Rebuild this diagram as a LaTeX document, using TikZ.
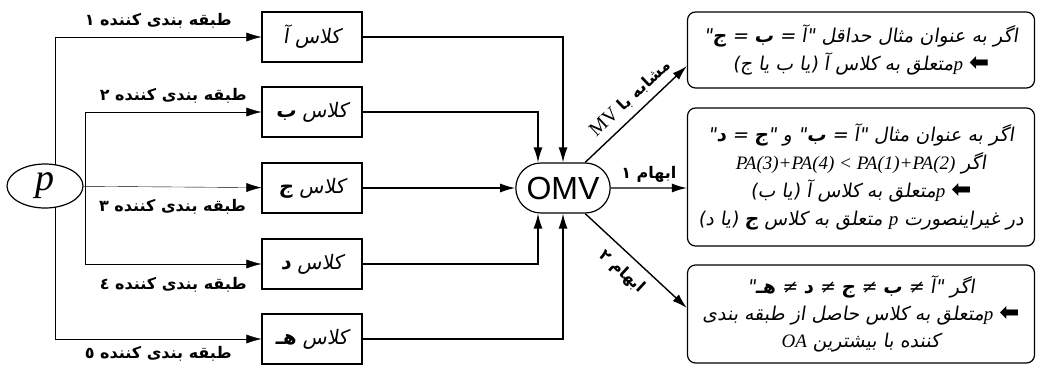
\documentclass[tikz,border=0pt]{standalone}
\usepackage{fontspec}
\usepackage{tikz}
\usetikzlibrary{positioning, arrows.meta, shapes.geometric, shapes.misc, backgrounds}
\setmainfont{Liberation Serif}
\newfontfamily\farsi[Script=Arabic]{DejaVu Sans}
\newfontfamily\farsisl[Script=Arabic,FakeSlant=0.15]{DejaVu Sans}
\newfontfamily\omvfont{Liberation Sans}
\TeXXeTstate=1
\newcommand\rtl[1]{\beginR#1\endR}
\newcommand\lat[1]{\beginL{\rmfamily\itshape #1}\endL}
\newcommand\bl[1]{{\bfseries #1}}
\newcommand\goarrow{{\farsi\bfseries\fontsize{24}{24}\selectfont ⬅}}

\begin{document}
\begin{tikzpicture}[x=1pt,y=-1pt,line width=1.4pt,
    arr/.style={-{Latex[length=15pt,width=9pt]}},
    clsbox/.style={draw, fill=white, line width=1.2pt, minimum width=100pt, minimum height=50pt,
        font=\fontsize{20}{22}\farsisl},
    resbox/.style={draw, fill=white, line width=1.2pt, rounded corners=8pt, minimum width=347pt,
        align=center, font=\fontsize{19}{28}\farsisl},
    clslabel/.style={font=\fontsize{16}{18}\farsi\bfseries, inner sep=4pt}]
\useasboundingbox (0,0) rectangle (1041,367);

% input and classes
\node[draw, ellipse, fill=white, line width=1.2pt, minimum width=76pt, minimum height=44pt,
    inner sep=0pt] (p) at (45,186) {\fontsize{38}{38}\selectfont\itshape p};
\node[clsbox] (clsA) at (312,37) {\rtl{کلاس آ}};
\node[clsbox] (clsB) at (312,112) {\rtl{کلاس \bl{ب}}};
\node[clsbox] (clsC) at (312,188) {\rtl{کلاس \bl{ج}}};
\node[clsbox] (clsD) at (312,264) {\rtl{کلاس \bl{د}}};
\node[clsbox] (clsE) at (312,339) {\rtl{کلاس \bl{هـ}}};

% voting
\node[draw, rounded rectangle, fill=white, line width=1.2pt, minimum width=101pt, minimum height=50pt,
    font=\fontsize{32}{32}\omvfont] (omv) at (563,188) {OMV};

% results
\node[resbox, minimum height=76pt] (res1) at (861,50)
    {\rtl{اگر به عنوان مثال حداقل "\kern0pt آ = \bl{ب} = \bl{ج}\kern0pt"}\\
     \rtl{\goarrow{} \lat{p}متعلق به کلاس آ (یا ب یا ج)}};
\node[resbox, minimum height=138pt] (res2) at (861,177)
    {\rtl{اگر به عنوان مثال "\kern0pt آ = \bl{ب}\kern0pt" و "\kern0pt\bl{ج} = \bl{د}\kern0pt"}\\
     \rtl{اگر \lat{PA(3)+PA(4) < PA(1)+PA(2)}}\\
     \rtl{\goarrow{} \lat{p}متعلق به کلاس آ (یا ب)}\\
     \rtl{در غیراینصورت \lat{p} متعلق به کلاس \bl{ج} (یا د)}};
\node[resbox, minimum height=98pt, font=\fontsize{19}{27}\farsisl] (res3) at (861,314)
    {\rtl{اگر "\kern0pt آ ≠ \bl{ب} ≠ \bl{ج} ≠ \bl{د} ≠ \bl{هـ}\kern0pt"}\\
     \rtl{\goarrow{} \lat{p}متعلق به کلاس حاصل از طبقه بندی}\\
     \rtl{کننده با بیشترین \lat{OA}}};

\begin{scope}[on background layer]
\coordinate (busO) at (55,186);
\coordinate (busI) at (85,186);
\draw[arr] (busO) |- node[clslabel, pos=0.75, above=5pt] {\rtl{طبقه بندی کننده ١}} (clsA);
\draw[arr] (busI) |- node[clslabel, pos=0.75, above=5pt] {\rtl{طبقه بندی کننده ٢}} (clsB);
\draw[arr] (p) -- node[clslabel, below=8pt] {\rtl{طبقه بندی کننده ٣}} (clsC);
\draw[arr] (busI) |- node[clslabel, pos=0.75, below=9pt] {\rtl{طبقه بندی کننده ٤}} (clsD);
\draw[arr] (busO) |- node[clslabel, pos=0.75, below=3pt] {\rtl{طبقه بندی کننده ٥}} (clsE);
\end{scope}

\draw[arr] (clsA) -| (omv.north);
\draw[arr] (clsB) -| ([xshift=-25pt]omv.north);
\draw[arr] (clsC) -- (omv);
\draw[arr] (clsD) -| ([xshift=-25pt]omv.south);
\draw[arr] (clsE) -| (omv.south);

\draw[arr] (omv.north east) -- node[clslabel, sloped, pos=0.55, above=3pt]
    {\rtl{مشابه با \beginL{\fontsize{20}{20}\rmfamily\mdseries MV}\endL}} ([yshift=-16pt]res1.west);
\draw[arr] (omv) -- node[clslabel, above=1pt] {\rtl{ابهام ١}} (omv -| res2.west);
\draw[arr] (omv.south east) -- node[clslabel, sloped, pos=0.48, below=5pt] {\rtl{ابهام ٢}} ([yshift=6pt]res3.west);
\end{tikzpicture}
\end{document}
